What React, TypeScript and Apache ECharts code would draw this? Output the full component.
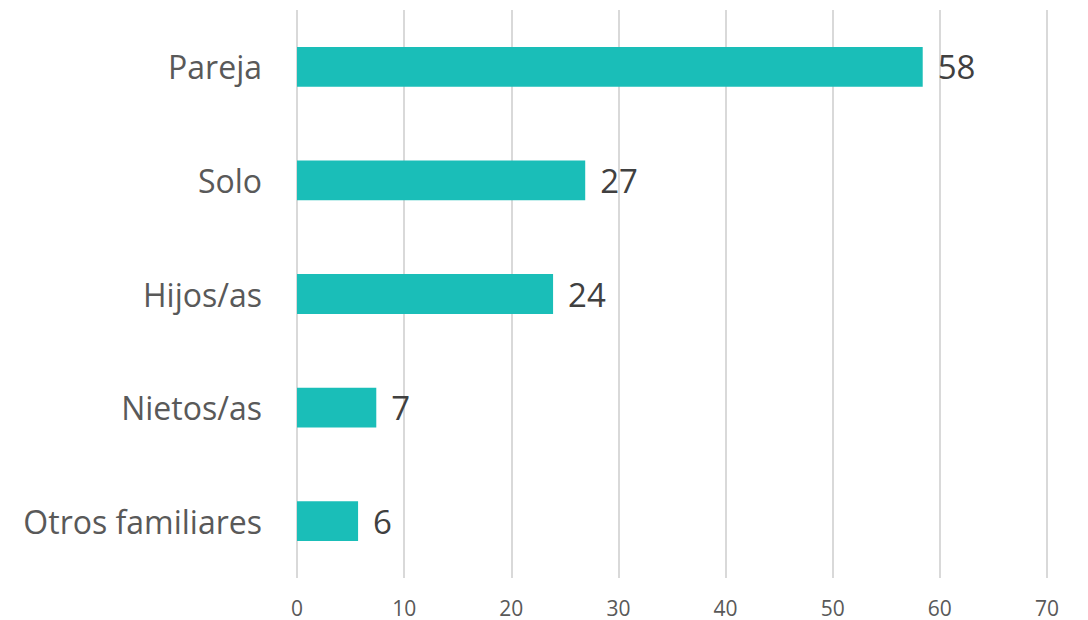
import React, { useEffect, useRef } from "react";
import * as echarts from "echarts";

const categories = ["Pareja", "Solo", "Hijos/as", "Nietos/as", "Otros familiares"];
const values = [58.4, 26.9, 23.9, 7.4, 5.7];
const xTicks = { min: 0, max: 70, interval: 10 };

export default function App() {
  const ref = useRef<HTMLDivElement>(null);
  useEffect(() => {
    document.body.style.margin = "0";
    if (!ref.current) return;
    const chart = echarts.init(ref.current, undefined, { renderer: "svg" });
    chart.setOption({
      animation: false,
      backgroundColor: "#ffffff",
      grid: { left: 297, right: 41, top: 10, bottom: 42, containLabel: false },
      xAxis: {
        type: "value",
        min: xTicks.min,
        max: xTicks.max,
        interval: xTicks.interval,
        axisLine: { show: false },
        axisTick: { show: false },
        axisLabel: {
          color: "#595959",
          fontSize: 21,
          fontFamily: "Open Sans",
          margin: 19,
        },
        splitLine: { show: true, lineStyle: { color: "#D9D9D9", width: 2 } },
      },
      yAxis: {
        type: "category",
        data: categories,
        inverse: true,
        axisLine: { show: false },
        axisTick: { show: false },
        axisLabel: {
          color: "#595959",
          fontSize: 32,
          fontFamily: "Open Sans",
          margin: 35,
        },
      },
      series: [
        {
          type: "bar",
          data: values,
          barWidth: "35%",
          itemStyle: { color: "#1ABEB8" },
          label: {
            show: true,
            position: "right",
            distance: 15,
            color: "#404040",
            fontSize: 33,
            fontFamily: "Open Sans",
            formatter: (p: any) => String(Math.round(p.value)),
          },
        },
      ],
    });
    return () => chart.dispose();
  }, []);
  return <div ref={ref} style={{ width: 1088, height: 620 }} />;
}
